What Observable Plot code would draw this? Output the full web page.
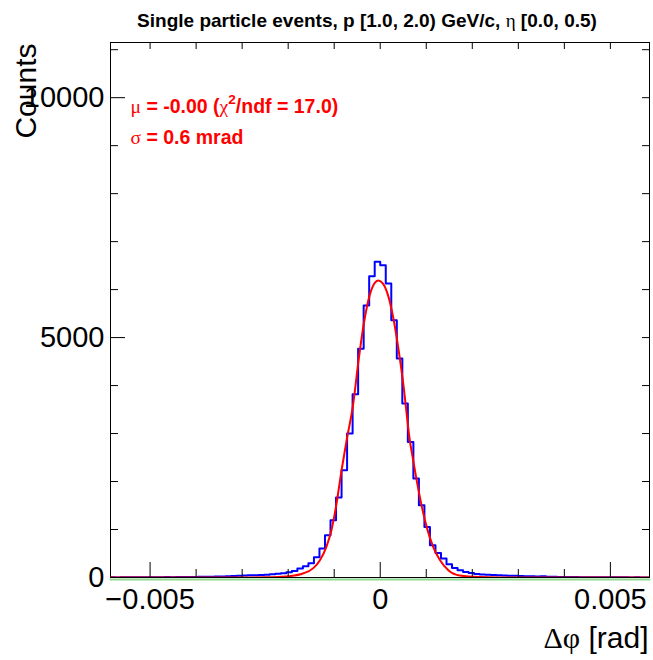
<!DOCTYPE html>
<html><head><meta charset="utf-8">
<script src="https://cdn.jsdelivr.net/npm/d3@7"></script>
<script src="https://cdn.jsdelivr.net/npm/@observablehq/plot@0.6"></script>
<style>
html,body{margin:0;padding:0;background:#fff;}
#chart svg{display:block;}
</style></head><body><div id="chart"></div>
<script>
// ---- data ----
const binLow = -0.006;
const binWidth = 0.00012;
const counts = [
  2, 3, 2, 4, 3, 5, 4, 6, 5, 7,
  6, 8, 7, 9, 10, 12, 11, 14, 15, 18,
  20, 23, 26, 30, 35, 40, 45, 48, 52, 58,
  66, 76, 88, 110, 135, 190, 235, 295, 420, 605,
  880, 1195, 1665, 2235, 3000, 3820, 4770, 5670, 6280, 6580,
  6510, 6125, 5360, 4565, 3625, 2825, 2063, 1506, 1054, 673,
  513, 396, 277, 200, 152, 117, 96, 75, 63, 58,
  50, 46, 42, 38, 34, 30, 27, 24, 22, 25,
  18, 14, 12, 10, 9, 8, 7, 6, 6, 5,
  4, 5, 3, 4, 3, 2, 3, 2, 2, 1
];
const fitX = [-0.00586, -0.0030, -0.0025, -0.0022, -0.00197, -0.00168, -0.00146, -0.00131, -0.00117, -0.00106,
  -0.00095, -0.00084, -0.00073, -0.00059, -0.00047, -0.00035, -0.00023, -0.00011, -0.00004, 0.00006,
  0.00017, 0.00028, 0.00039, 0.00050, 0.00064, 0.00072, 0.00086, 0.00101, 0.00115, 0.00130,
  0.00148, 0.00173, 0.00217, 0.0026, 0.0030, 0.00585];
const fitY = [0, 0, 3, 12, 27, 83, 190, 360, 640, 985,
  1540, 2235, 2860, 3600, 4530, 5330, 5880, 6150, 6190, 6125,
  5880, 5430, 4800, 4040, 2880, 2420, 1680, 1050, 640, 360,
  152, 40, 8, 1, 0, 0];
const baseX = [-0.00586, 0.00585];
const baseY = [0, 0];
const xDomain = [-0.00586, 0.00585];
const yDomain = [0, 11150];
const xLabelTicks = [-0.005, 0, 0.005];
const xMinorTicks = [-0.004, -0.003, -0.002, -0.001, 0.001, 0.002, 0.003, 0.004];
const xAllTicks = [-0.005, -0.004, -0.003, -0.002, -0.001, 0, 0.001, 0.002, 0.003, 0.004, 0.005];
const yLabelTicks = [0, 5000, 10000];
const yMinorTicks = [1000, 2000, 3000, 4000, 6000, 7000, 8000, 9000, 11000];
const yAllTicks = [0, 1000, 2000, 3000, 4000, 5000, 6000, 7000, 8000, 9000, 10000, 11000];
const titleText = "Single particle events, p [1.0, 2.0) GeV/c, η [0.0, 0.5)";
const xTitle = "Δφ [rad]";
const yTitle = "Counts";
const fitLine1 = "μ = -0.00 (χ2/ndf = 17.0)";
const fitLine2 = "σ = 0.6 mrad";

// ---- layout ----
const W = 653, H = 660, mL = 110, mR = 4, mT = 42, mB = 83;
const fW = W - mL - mR, fH = H - mT - mB;

const hist = counts.map((c, i) => ({x: binLow + i * binWidth, y: c}));
hist.push({x: binLow + counts.length * binWidth, y: counts[counts.length - 1]});
const fit = fitX.map((x, i) => ({x, y: fitY[i]}));
const base = baseX.map((x, i) => ({x, y: baseY[i]}));

const sans = "'Liberation Sans', Arial, Helvetica, sans-serif";
const fmtX = d => d < 0 ? "\u2212" + String(Math.abs(d)) : String(d);
const fmtY = d => String(d);

const chart = Plot.plot({
  width: W, height: H,
  marginLeft: mL, marginRight: mR, marginTop: mT, marginBottom: mB,
  x: {domain: xDomain},
  y: {domain: yDomain},
  style: {fontFamily: sans, background: "white", color: "black"},
  marks: [
    Plot.line(base, {x: "x", y: "y", stroke: "#90d890", strokeWidth: 2, dy: 2}),
    Plot.line(hist, {x: "x", y: "y", curve: "step-after", stroke: "#0000ff", strokeWidth: 2, clip: true}),
    Plot.frame({stroke: "black", strokeWidth: 1}),
    Plot.line(fit, {x: "x", y: "y", curve: "monotone-x", stroke: "#ff0000", strokeWidth: 2, clip: true}),
    Plot.ruleX(xLabelTicks, {insetTop: fH - 15, stroke: "black"}),
    Plot.ruleX(xMinorTicks, {insetTop: fH - 8, stroke: "black"}),
    Plot.ruleX(xAllTicks, {insetBottom: fH - 7, stroke: "black"}),
    Plot.ruleY(yLabelTicks, {insetRight: fW - 15, stroke: "black"}),
    Plot.ruleY(yMinorTicks, {insetRight: fW - 8, stroke: "black"}),
    Plot.ruleY(yAllTicks, {insetLeft: fW - 7, stroke: "black"}),
    Plot.axisX(xLabelTicks, {tickSize: 0, tickPadding: 11, fontSize: 29, label: null, tickFormat: fmtX}),
    Plot.axisY(yLabelTicks, {tickSize: 0, tickPadding: 6, fontSize: 29, label: null, tickFormat: fmtY}),
    Plot.text([yTitle], {frameAnchor: "top-left", rotate: -90, textAnchor: "end", lineAnchor: "bottom", dx: -75, dy: 1, fontSize: 30}),
    Plot.text([xTitle], {frameAnchor: "bottom-right", textAnchor: "end", lineAnchor: "bottom", dx: -1, dy: 70, fontSize: 30}),
    Plot.text([titleText], {frameAnchor: "top", textAnchor: "middle", lineAnchor: "bottom", dx: -13, dy: -16, fontSize: 19, fontWeight: "bold"}),
    Plot.text([fitLine1], {frameAnchor: "top-left", textAnchor: "start", lineAnchor: "bottom", dx: 20, dy: 70, fontSize: 19.5, fontWeight: "bold", fill: "#ff0000"}),
    Plot.text([fitLine2], {frameAnchor: "top-left", textAnchor: "start", lineAnchor: "bottom", dx: 20, dy: 101, fontSize: 19.5, fontWeight: "bold", fill: "#ff0000"})
  ]
});
document.getElementById("chart").appendChild(chart);

// ---- rich text (Greek letters in serif, superscript) ----
const NS = "http://www.w3.org/2000/svg";
const serif = "'Liberation Serif', 'Times New Roman', serif";
function richify(content, parts) {
  chart.querySelectorAll("text").forEach(t => {
    if (t.textContent !== content) return;
    while (t.firstChild) t.removeChild(t.firstChild);
    let shifted = false;
    parts.forEach(p => {
      const s = document.createElementNS(NS, "tspan");
      s.textContent = p.t;
      if (p.serif) { s.setAttribute("font-family", serif); s.setAttribute("font-weight", "normal"); }
      if (p.sup) { s.setAttribute("font-size", "0.7em"); s.setAttribute("dy", "-0.6em"); shifted = true; }
      else if (shifted) { s.setAttribute("dy", "0.42em"); shifted = false; }
      t.appendChild(s);
    });
  });
}
richify(titleText, [{t: "Single particle events, p [1.0, 2.0) GeV/c, "}, {t: "η", serif: true}, {t: " [0.0, 0.5)"}]);
richify(xTitle, [{t: "Δφ", serif: true}, {t: " [rad]"}]);
richify(fitLine1, [{t: "μ", serif: true}, {t: " = -0.00 ("}, {t: "χ", serif: true}, {t: "2", sup: true}, {t: "/ndf = 17.0)"}]);
richify(fitLine2, [{t: "σ", serif: true}, {t: " = 0.6 mrad"}]);
</script>
</body></html>
